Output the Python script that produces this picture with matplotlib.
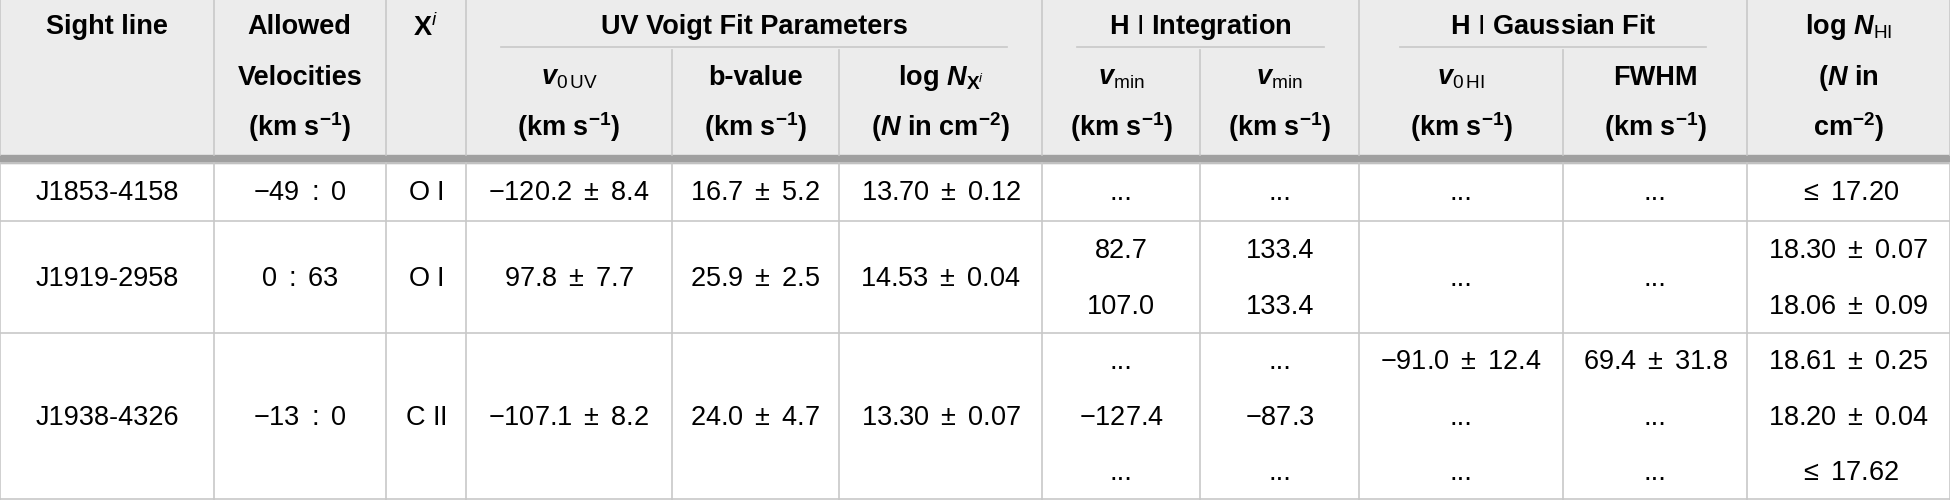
import matplotlib
matplotlib.use("Agg")
import matplotlib.pyplot as plt

plt.rcParams['font.family'] = ['Liberation Sans', 'DejaVu Sans']
plt.rcParams['mathtext.fontset'] = 'custom'
plt.rcParams['mathtext.rm'] = 'Liberation Sans'
plt.rcParams['mathtext.it'] = 'Liberation Sans:italic'
plt.rcParams['mathtext.bf'] = 'Liberation Sans:bold'
plt.rcParams['mathtext.bfit'] = 'Liberation Sans:bold:italic'
plt.rcParams['mathtext.sf'] = 'Liberation Sans'

col_edges = [0, 172, 310, 375, 540, 675, 838, 965, 1093, 1257, 1405, 1568]
row_edges = [131, 178, 268, 402]

sightlines = ["J1853-4158", "J1919-2958", "J1938-4326"]
velocities = [r"$-49\ :\ 0$", r"$0\ :\ 63$", r"$-13\ :\ 0$"]
ions = ["O I", "O I", "C II"]
v0_uv = [r"$-120.2\ \pm\ 8.4$", r"$97.8\ \pm\ 7.7$", r"$-107.1\ \pm\ 8.2$"]
bvals = [r"$16.7\ \pm\ 5.2$", r"$25.9\ \pm\ 2.5$", r"$24.0\ \pm\ 4.7$"]
logNx = [r"$13.70\ \pm\ 0.12$", r"$14.53\ \pm\ 0.04$", r"$13.30\ \pm\ 0.07$"]
vmin1 = [["..."], ["82.7", "107.0"], ["...", r"$-127.4$", "..."]]
vmin2 = [["..."], ["133.4", "133.4"], ["...", r"$-87.3$", "..."]]
v0_hi = [["..."], ["..."], [r"$-91.0\ \pm\ 12.4$", "...", "..."]]
fwhm = [["..."], ["..."], [r"$69.4\ \pm\ 31.8$", "...", "..."]]
logNHI = [[r"$\leq\ 17.20$"], [r"$18.30\ \pm\ 0.07$", r"$18.06\ \pm\ 0.09$"],
          [r"$18.61\ \pm\ 0.25$", r"$18.20\ \pm\ 0.04$", r"$\leq\ 17.62$"]]

fig = plt.figure(figsize=(19.5, 5.0), dpi=100)
ax = fig.add_axes([0, 0, 1, 1])
ax.set_xlim(0, 1568)
ax.set_ylim(402, 0)
ax.axis('off')

FS = 19.5
gray = '#c8c8c8'
ax.add_patch(plt.Rectangle((0, 0), 1568, 125, color='#ececec', zorder=0))
ax.add_patch(plt.Rectangle((0, 125), 1568, 6, color='#a0a0a0', zorder=1))

for x in col_edges:
    ax.plot([x, x], [131, 402], color=gray, lw=1.2)
for x in [0, 172, 310, 375, 838, 1093, 1405, 1568]:
    ax.plot([x, x], [0, 125], color=gray, lw=1.2)
for x in [540, 675, 965, 1257]:
    ax.plot([x, x], [40, 125], color=gray, lw=1.2)
for y in row_edges[:-1]:
    ax.plot([0, 1568], [y, y], color=gray, lw=1.2)
ax.plot([0, 1568], [401, 401], color=gray, lw=1.2)

def c(i):
    return (col_edges[i] + col_edges[i + 1]) / 2

def T(x, y, s, bold=False):
    ax.text(x, y, s, ha='center', va='center', fontsize=FS,
            fontweight='bold' if bold else 'normal')

T(c(0), 22, "Sight line", True)
T(c(1), 22, "Allowed", True)
T(c(1), 63, "Velocities", True)
T(c(1), 102, r"$\mathbf{(km\ s^{-1})}$", True)
T(c(2), 22, r"$\mathbf{X}^{i}$", True)
T((375 + 838) / 2, 22, "UV Voigt Fit Parameters", True)
ax.plot([403, 810], [38, 38], color=gray, lw=1.2)
T((838 + 1093) / 2, 22, r"$\mathbf{H}\ \mathrm{I}$" + r" Integration", True)
ax.plot([866, 1065], [38, 38], color=gray, lw=1.2)
T((1093 + 1405) / 2, 22, r"$\mathbf{H}\ \mathrm{I}$" + r" Gaussian Fit", True)
ax.plot([1126, 1372], [38, 38], color=gray, lw=1.2)
T(c(10), 22, r"$\mathbf{log}\ \mathbfit{N}_{\mathrm{HI}}$", True)
T(c(10), 63, r"$\mathbf{(}\mathbfit{N}\mathbf{\ in}$", True)
T(c(10), 102, r"$\mathbf{cm^{-2})}$", True)

kms = r"$\mathbf{(km\ s^{-1})}$"
T(c(3), 63, r"$\mathbfit{v}_{0\,\mathrm{UV}}$", True)
T(c(4), 63, "b-value", True)
T(c(5), 63, r"$\mathbf{log}\ \mathbfit{N}_{\mathbf{X}^{i}}$", True)
T(c(6), 63, r"$\mathbfit{v}_{\mathrm{min}}$", True)
T(c(7), 63, r"$\mathbfit{v}_{\mathrm{min}}$", True)
T(c(8), 63, r"$\mathbfit{v}_{0\,\mathrm{HI}}$", True)
T(c(9), 63, "FWHM", True)
for i in [3, 4, 6, 7, 8, 9]:
    T(c(i), 102, kms, True)
T(c(5), 102, r"$\mathbf{(}\mathbfit{N}\mathbf{\ in\ cm^{-2})}$", True)

for r in range(3):
    y0, y1 = row_edges[r], row_edges[r + 1]
    mid = (y0 + y1) / 2 + 1
    T(c(0), mid, sightlines[r])
    T(c(1), mid, velocities[r])
    a, b = ions[r].split()
    T(c(2), mid, a + r"$\ \mathrm{" + b + "}$")
    T(c(3), mid, v0_uv[r])
    T(c(4), mid, bvals[r])
    T(c(5), mid, logNx[r])
    n = len(logNHI[r])
    h = (y1 - y0) / n
    for ci, data in [(6, vmin1), (7, vmin2), (8, v0_hi), (9, fwhm), (10, logNHI)]:
        vals = data[r]
        for k, v in enumerate(vals):
            yy = y0 + h * (k + 0.5) + 1 if len(vals) == n else mid
            T(c(ci), yy, v)

fig.savefig("out.png", dpi=100)
